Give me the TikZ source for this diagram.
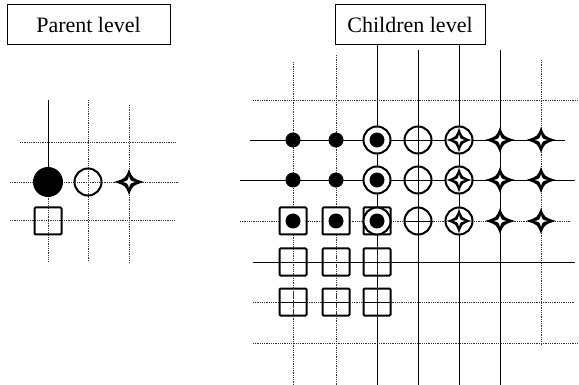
\documentclass[tikz,border=0pt]{standalone}
\usepackage{fontspec}
\setmainfont{Liberation Serif}
\begin{document}
\begin{tikzpicture}[x=1pt,y=-1pt,
  label box/.style={draw,line width=1pt,inner sep=0pt,minimum height=40pt,font=\fontsize{22}{24}\selectfont},
  gline/.style={line width=0.9pt,black},
  gdot/.style={line width=0.8pt,black!80,densely dotted},
  bigdot/.style={circle,fill=black,inner sep=0pt,minimum size=30pt},
  smalldot/.style={circle,fill=black,inner sep=0pt,minimum size=15pt},
  ring/.style={circle,draw,line width=2pt,fill=white,inner sep=0pt,minimum size=27pt},
  sq/.style={rectangle,draw,line width=2pt,inner sep=0pt,minimum size=27pt,rounded corners=1pt},
  star4/.pic={
    \fill[x=1pt,y=1pt,black] (15,0) .. controls (3.5,3.5) .. (0,13) .. controls (-3.5,3.5) .. (-15,0) .. controls (-3.5,-3.5) .. (0,-13) .. controls (3.5,-3.5) .. cycle;
    \fill[x=1pt,y=1pt,white] (6.5,0) .. controls (1.2,1.2) .. (0,6) .. controls (-1.2,1.2) .. (-6.5,0) .. controls (-1.2,-1.2) .. (0,-6) .. controls (1.2,-1.2) .. cycle;},
  star4s/.pic={
    \fill[x=1pt,y=1pt,black] (12.5,0) .. controls (3,3) .. (0,12.5) .. controls (-3,3) .. (-12.5,0) .. controls (-3,-3) .. (0,-12.5) .. controls (3,-3) .. cycle;
    \fill[x=1pt,y=1pt,white] (6,0) .. controls (1.1,1.1) .. (0,6) .. controls (-1.1,1.1) .. (-6,0) .. controls (-1.1,-1.1) .. (0,-6) .. controls (1.1,-1.1) .. cycle;}
]
\useasboundingbox (0,0) rectangle (579,385);
\fill[white] (0,0) rectangle (579,385);

% titles
\node[label box,minimum width=163pt] (parent) at (88.5,25) {Parent level};
\node[label box,minimum width=150pt] (children) at (410,25) {Children level};

% ---- parent grid ----
\draw[gline] (48,100) -- (48,185);
\draw[gdot] (48,185) -- (48,262);
\draw[gdot] (88,100) -- (88,262);
\draw[gdot] (129,105) -- (129,262);
\draw[gdot] (20,142) -- (175,142);
\draw[gdot] (10,182) -- (178,182);
\draw[gdot] (10,220) -- (175,220);

\node[bigdot] (p1) at (48,182) {};
\node[ring] (p2) at (88,182) {};
\draw[gdot] (p2.north) -- (p2.south);
\draw[gdot] (p2.west) -- (p2.east);
\pic (p3) at (129,182) {star4};
\node[sq] (p4) at (48,221) {};

% ---- children grid ----
\draw[gdot] (293,62) -- (293,385);
\draw[gdot] (336,55) -- (336,385);
\draw[gline] (377,45) -- (377,385);
\draw[gline] (418,50) -- (418,385);
\draw[gline] (459,45) -- (459,385);
\draw[gline] (500,50) -- (500,385);
\draw[gdot] (541,60) -- (541,345);

\draw[gdot] (253,100) -- (578,100);
\draw[gline] (250,140) -- (565,140);
\draw[gline] (240,180) -- (575,180);
\draw[gdot] (240,221) -- (570,221);
\draw[gline] (253,262) -- (575,262);
\draw[gdot] (253,302) -- (575,302);
\draw[gdot] (253,343) -- (578,343);

% row 1 and 2
\foreach \r/\y in {1/140,2/180}{
  \node[smalldot] (c\r a) at (293,\y) {};
  \node[smalldot] (c\r b) at (336,\y) {};
  \node[ring] (c\r c) at (377,\y) {};
  \node[smalldot] (c\r cd) at (377,\y) {};
  \node[ring] (c\r d) at (418,\y) {};
  \draw[gline] (c\r d.north) -- (c\r d.south);
  \draw[gline] (c\r d.west) -- (c\r d.east);
  \node[ring] (c\r e) at (459,\y) {};
  \pic at (459,\y) {star4s};
  \pic at (500,\y) {star4};
  \pic at (541,\y) {star4};
}
% row 3
\node[sq,fill=white] (c3a) at (293,221) {};
\node[smalldot] (c3ad) at (293,221) {};
\node[sq,fill=white] (c3b) at (336,221) {};
\node[smalldot] (c3bd) at (336,221) {};
\node[sq,fill=white] (c3c) at (377,221) {};
\node[ring] (c3cr) at (377,221) {};
\node[smalldot] (c3cd) at (377,221) {};
\node[ring] (c3d) at (418,221) {};
\draw[gline] (c3d.north) -- (c3d.south);
\draw[gline] (c3d.west) -- (c3d.east);
\node[ring] (c3e) at (459,221) {};
\pic at (459,221) {star4s};
\pic at (500,221) {star4};
\pic at (541,221) {star4};
% rows 4, 5
\foreach \r/\y in {4/262,5/302}{
  \foreach \c/\x in {a/293,b/336,c/377}{
    \node[sq] (c\r\c) at (\x,\y) {};
    \draw[gdot] (c\r\c.north) -- (c\r\c.south);
    \draw[gline] (c\r\c.west) -- (c\r\c.east);
  }
}
\end{tikzpicture}
\end{document}
